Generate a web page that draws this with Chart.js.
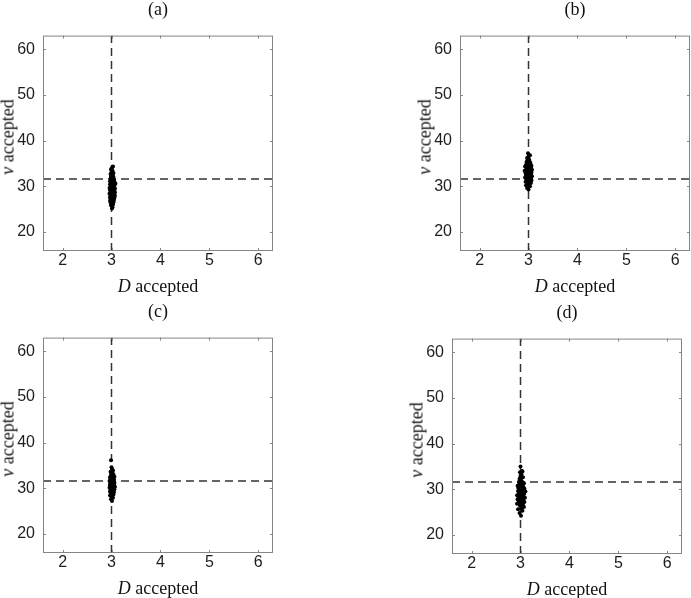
<!DOCTYPE html>
<html>
<head>
<meta charset="utf-8">
<script src="https://cdn.jsdelivr.net/npm/chart.js@4.4.1/dist/chart.umd.min.js"></script>
<style>
  html, body { margin: 0; padding: 0; background: #fff; overflow: hidden; }
  #wrap { position: relative; width: 691px; height: 598px; }
  canvas { position: absolute; }
  .lbl { position: absolute; font-family: "Liberation Serif", "DejaVu Serif", serif; font-size: 18px; color: #111;
         white-space: nowrap; transform: translate(-50%, -50%); }
  .ylbl { transform: translate(-50%, -50%) rotate(-90deg); }
</style>
</head>
<body>
<div id="wrap"></div>
<script>
// accepted samples (D, nu) for each panel
const aD = [3.01,3.02,2.99,3.03,3.00,2.98,3.04,3.01,2.97,3.05, 3.02,2.99,3.06,3.00,2.97,3.03,3.07,2.98,3.01,3.05,
  2.96,3.03,3.07,2.99,3.02,3.06,2.97,3.04,3.00,3.07, 2.96,3.03,3.05,2.98,3.01,3.06,2.97,3.04,3.08,2.99,
  3.02,3.06,2.97,3.04,3.00,3.05,2.98,3.02,3.04,2.99, 3.03,3.01,2.98,3.04,3.00,3.02,2.99,3.01,3.03,3.00,
  3.02,3.04,2.98,3.01,3.03,2.99,3.05,3.02,3.00,3.03];
const aNu = [25.1,25.4,25.8,26.0,26.2,26.4,26.5,26.7,26.8,27.0, 27.1,27.2,27.4,27.5,27.6,27.8,27.9,28.0,28.1,28.3,
  28.4,28.5,28.6,28.8,28.9,29.0,29.1,29.2,29.4,29.5, 29.6,29.7,29.9,30.0,30.1,30.2,30.4,30.5,30.6,30.7,
  30.9,31.0,31.1,31.3,31.4,31.5,31.7,31.8,32.0,32.1, 32.3,32.5,32.7,32.9,33.1,33.4,33.7,34.0,34.3,28.2,
  29.3,30.3,27.3,31.2,29.8,28.7,30.8,27.7,29.0,30.0];

const bD = [3.00,2.97,3.03,2.95,3.01,3.05,2.98,2.94,3.02,3.06, 2.96,3.00,3.04,2.93,2.99,3.07,3.02,2.95,3.05,2.98,
  3.01,2.94,3.06,2.97,3.03,2.92,3.00,3.07,2.96,3.02, 2.98,3.05,2.93,3.01,3.06,2.95,3.03,2.99,3.04,2.96,
  3.02,2.98,3.01,2.97,3.00,3.03,2.99,3.00,2.96,3.04, 3.01,2.95,3.03,2.98,3.05,3.00,2.94,3.02,2.99,3.04,
  2.97,3.01,3.03,2.96,3.06,3.00,2.98,3.02,3.04,2.99];
const bNu = [29.3,29.6,30.0,30.2,30.5,30.7,30.9,31.0,31.2,31.3, 31.5,31.6,31.8,31.9,32.0,32.2,32.3,32.4,32.5,32.7,
  32.8,32.9,33.0,33.1,33.3,33.4,33.5,33.6,33.8,33.9, 34.0,34.1,34.3,34.4,34.5,34.7,34.8,35.0,35.1,35.3,
  35.5,35.7,35.9,36.2,36.5,36.8,37.2,32.1,33.2,34.2, 31.4,32.6,33.7,34.6,31.7,32.9,33.3,35.2,30.8,32.4,
  33.9,34.9,31.1,32.0,33.5,30.4,33.0,34.0,32.7,35.6];

const cD = [3.01,2.99,3.03,3.00,2.97,3.04,3.02,2.98,3.05,3.00, 2.97,3.03,3.06,2.99,3.01,2.96,3.04,3.07,3.00,2.98,
  3.03,3.05,2.97,3.01,3.06,2.99,3.02,3.04,2.96,3.00, 3.05,2.98,3.03,3.01,2.97,3.06,3.02,2.99,3.04,3.00,
  3.02,2.98,3.03,3.01,3.00,2.99,3.04,2.97,3.05,3.02, 3.00,3.03,2.98,3.01,3.04,2.99,3.02,3.00,3.03,2.98,
  3.05,3.01,2.97,3.03,3.00,3.04,2.99,3.02,3.01,3.00];
const cNu = [27.2,27.6,27.9,28.2,28.4,28.6,28.8,29.0,29.1,29.3, 29.4,29.5,29.7,29.8,29.9,30.1,30.2,30.3,30.4,30.6,
  30.7,30.8,30.9,31.0,31.2,31.3,31.4,31.5,31.6,31.8, 31.9,32.0,32.1,32.3,32.4,32.5,32.7,32.8,33.0,33.2,
  33.4,33.6,33.9,34.2,34.6,36.1,29.6,30.5,31.1,32.2, 30.0,31.7,29.2,32.6,30.9,31.3,28.9,33.1,30.3,31.9,
  29.9,32.9,30.6,31.5,28.5,30.1,32.4,31.0,29.5,33.5];

const dD = [3.01,2.98,3.04,2.95,3.02,3.07,2.99,3.05,2.93,3.03, 3.08,2.97,3.00,3.06,2.94,3.02,3.09,2.96,3.04,3.00,
  2.93,3.07,3.01,2.97,3.05,3.10,2.95,3.03,2.99,3.08, 2.96,3.02,3.06,2.94,3.04,3.00,3.07,2.97,3.03,3.01,
  2.98,3.05,3.00,3.02,2.99,3.03,3.00,3.01,2.97,3.05, 3.02,2.98,3.06,3.00,3.04,2.96,3.03,2.99,3.01,3.07,
  2.95,3.02,3.04,2.98,3.06,3.00,3.03,2.97,3.01,3.04];
const dNu = [24.2,24.8,25.3,25.6,25.9,26.1,26.4,26.6,26.8,27.0, 27.2,27.3,27.5,27.7,27.8,28.0,28.1,28.3,28.4,28.6,
  28.7,28.9,29.0,29.2,29.3,29.5,29.6,29.8,29.9,30.1, 30.2,30.4,30.5,30.7,30.9,31.1,31.3,31.5,31.7,32.0,
  32.3,32.6,32.9,33.3,33.7,34.0,35.0,27.9,28.8,29.4, 30.3,26.9,28.2,29.7,31.0,27.4,28.5,30.0,26.3,29.1,
  30.8,27.6,28.9,31.8,29.5,26.7,30.6,28.4,32.5,33.9];

// true values (dashed lines) and axis setup
const refD = 3;
const refNu = 31.6;
const xTicks = [2, 3, 4, 5, 6];
const yTicks = [20, 30, 40, 50, 60];
const xRange = [1.6, 6.3];
const yRange = [15.8, 63];

const panels = [
  { tag: '(a)', D: aD, nu: aNu, left: 43, top: 22 },
  { tag: '(b)', D: bD, nu: bNu, left: 460, top: 22 },
  { tag: '(c)', D: cD, nu: cNu, left: 43, top: 324 },
  { tag: '(d)', D: dD, nu: dNu, left: 452, top: 325 },
];

const PW = 230, PH = 229;
const AXIS_W = 43, AXIS_H = 30, PAD_T = 4, PAD_R = 4;
const wrap = document.getElementById('wrap');

// box with inward ticks on all four sides (matlab style)
const boxPlugin = {
  id: 'box',
  afterDraw(chart) {
    const { ctx, chartArea: a, scales } = chart;
    ctx.save();
    ctx.strokeStyle = '#858585';
    ctx.lineWidth = 1;
    ctx.strokeRect(a.left + 0.5, a.top + 0.5, a.right - a.left - 1, a.bottom - a.top - 1);
    ctx.beginPath();
    xTicks.forEach(v => {
      const px = Math.round(scales.x.getPixelForValue(v)) + 0.5;
      ctx.moveTo(px, a.bottom); ctx.lineTo(px, a.bottom - 3);
      ctx.moveTo(px, a.top); ctx.lineTo(px, a.top + 3);
    });
    yTicks.forEach(v => {
      const py = Math.round(scales.y.getPixelForValue(v)) + 0.5;
      ctx.moveTo(a.left, py); ctx.lineTo(a.left + 3, py);
      ctx.moveTo(a.right, py); ctx.lineTo(a.right - 3, py);
    });
    ctx.stroke();
    ctx.restore();
  }
};

const addLabel = (text, x, y, cls) => {
  const el = document.createElement('div');
  el.className = 'lbl' + (cls ? ' ' + cls : '');
  el.innerHTML = text;
  el.style.left = x + 'px';
  el.style.top = y + 'px';
  wrap.appendChild(el);
};

panels.forEach(p => {
  const canvas = document.createElement('canvas');
  canvas.width = AXIS_W + PW + PAD_R;
  canvas.height = PAD_T + PH + AXIS_H;
  canvas.style.left = (p.left - AXIS_W) + 'px';
  canvas.style.top = (p.top - PAD_T) + 'px';
  wrap.appendChild(canvas);

  const pts = p.D.map((d, i) => ({ x: d, y: p.nu[i] }));
  const tickFont = { family: '"Liberation Sans", Arial, sans-serif', size: 16 };

  new Chart(canvas.getContext('2d'), {
    type: 'scatter',
    data: {
      datasets: [
        {
          data: pts,
          backgroundColor: '#000',
          borderWidth: 0,
          pointRadius: 2,
          order: 0,
        },
        {
          data: [{ x: refD, y: yRange[0] }, { x: refD, y: yRange[1] }],
          showLine: true,
          borderColor: '#333',
          borderWidth: 1.5,
          borderDash: [8, 5],
          pointRadius: 0,
          order: 1,
        },
        {
          data: [{ x: xRange[0], y: refNu }, { x: xRange[1], y: refNu }],
          showLine: true,
          borderColor: '#333',
          borderWidth: 1.5,
          borderDash: [8, 5],
          pointRadius: 0,
          order: 1,
        },
      ],
    },
    options: {
      responsive: false,
      animation: false,
      devicePixelRatio: 1,
      layout: { padding: { top: PAD_T, right: PAD_R, bottom: 0, left: 0 } },
      plugins: { legend: { display: false }, tooltip: { enabled: false } },
      scales: {
        x: {
          type: 'linear',
          min: xRange[0],
          max: xRange[1],
          afterBuildTicks: s => { s.ticks = xTicks.map(v => ({ value: v })); },
          afterFit: s => { s.height = AXIS_H; },
          grid: { display: false, drawTicks: false },
          border: { display: false },
          ticks: { font: tickFont, color: '#1e1e1e', padding: 0, maxRotation: 0 },
        },
        y: {
          type: 'linear',
          min: yRange[0],
          max: yRange[1],
          afterBuildTicks: s => { s.ticks = yTicks.map(v => ({ value: v })); },
          afterFit: s => { s.width = AXIS_W; },
          grid: { display: false, drawTicks: false },
          border: { display: false },
          ticks: { font: tickFont, color: '#1e1e1e', padding: 8 },
        },
      },
    },
    plugins: [boxPlugin],
  });

  addLabel(p.tag, p.left + PW / 2, p.top - 13);
  addLabel('<i>D</i> accepted', p.left + PW / 2, p.top + PH + 35);
  addLabel('<i>&nu;</i> accepted', p.left - 35, p.top + PH / 2, 'ylbl');
});
</script>
</body>
</html>
